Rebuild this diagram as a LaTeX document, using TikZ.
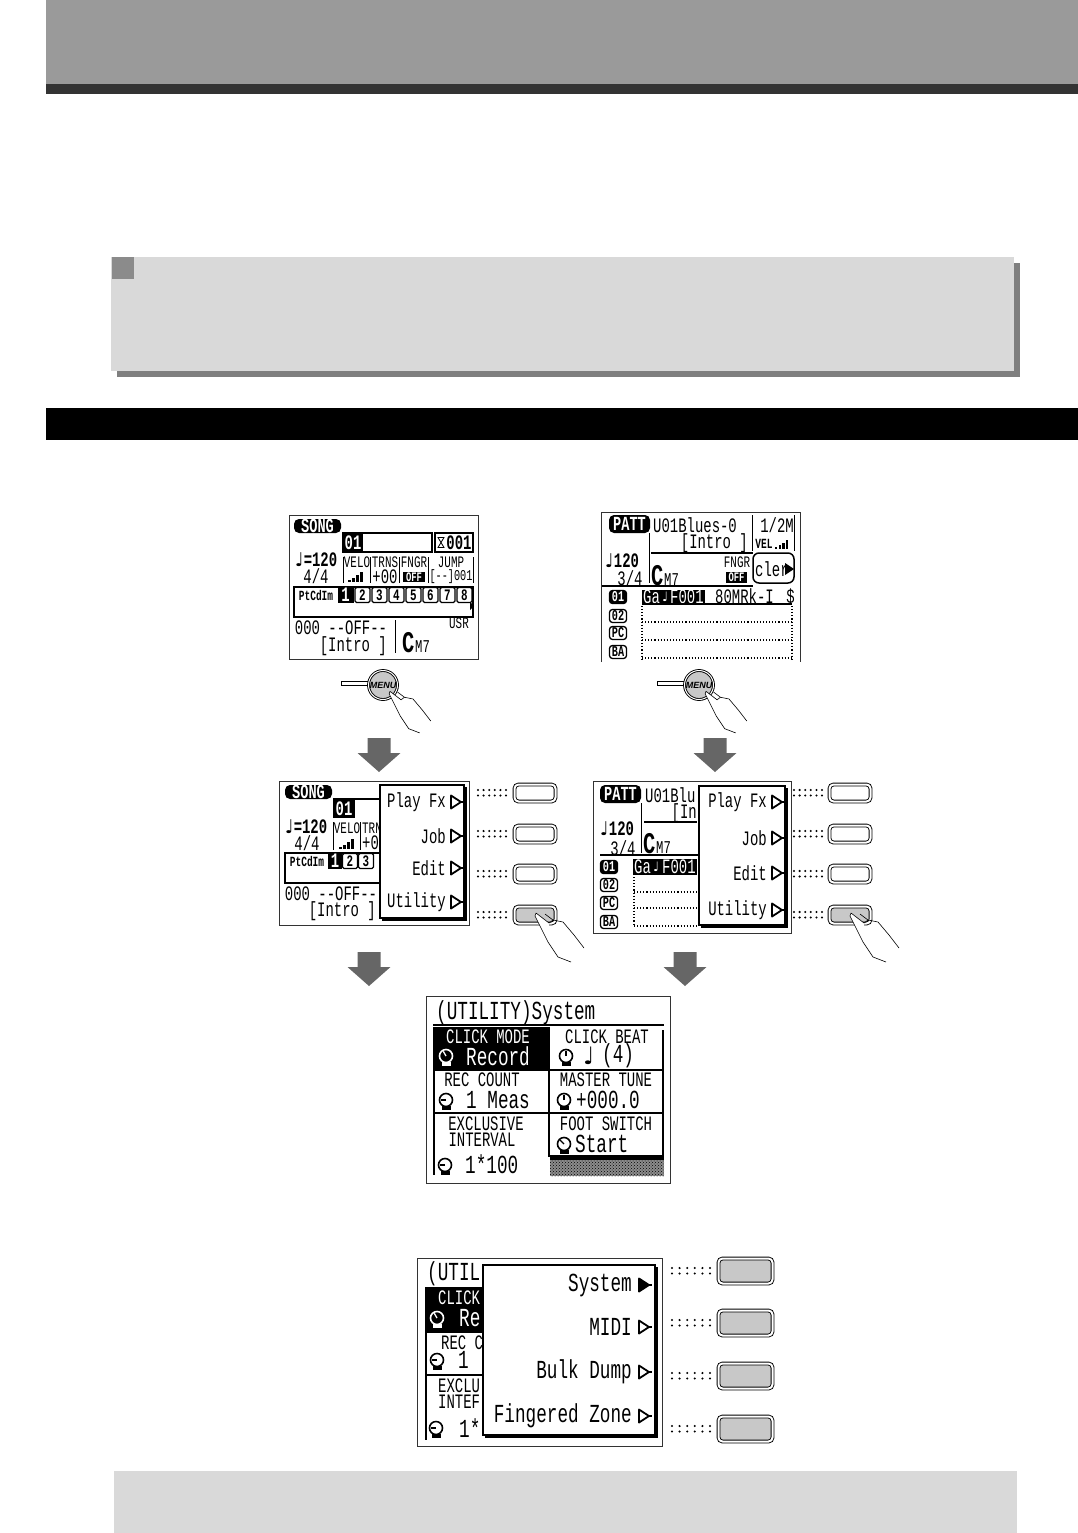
\documentclass[tikz,border=0pt]{standalone}
\usepackage{fontspec}
\usetikzlibrary{patterns}
\newfontfamily\lcdfont[FakeStretch=0.68]{Liberation Mono}
\newfontfamily\symfont{DejaVu Sans}
\newfontfamily\menufont{Liberation Sans}
\definecolor{bandgray}{HTML}{9A9A9A}
\definecolor{banddark}{HTML}{333333}
\definecolor{boxgray}{HTML}{D9D9D9}
\definecolor{shadowgray}{HTML}{7F7F7F}
\definecolor{arrowgray}{HTML}{666666}
\definecolor{keygray}{HTML}{C8C8C8}
\newcommand{\notemark}[1]{{\symfont\bfseries\fontsize{#1}{#1}\selectfont ♩}}

\tikzset{
    lcd/.style={font=\lcdfont\fontsize{20.5}{20.5}\selectfont, inner sep=0pt},
    lcdbold/.style={font=\lcdfont\bfseries\fontsize{20.5}{20.5}\selectfont, inner sep=0pt},
    lcdbig/.style={font=\lcdfont\fontsize{26}{26}\selectfont, inner sep=0pt},
    lcdsm/.style={font=\lcdfont\fontsize{16}{16}\selectfont, inner sep=0pt},
    lcdtiny/.style={font=\lcdfont\bfseries\fontsize{14}{14}\selectfont, inner sep=0pt},
    lcdchord/.style={font=\lcdfont\bfseries\fontsize{30}{30}\selectfont, inner sep=0pt},
    lcdchordb/.style={font=\lcdfont\fontsize{18}{18}\selectfont, inner sep=0pt},
    screen/.style={draw=black!80, line width=.9pt, fill=white},
    popup/.style={draw=black, line width=2pt, fill=white},
    pill/.style={rounded corners=5pt, fill=black, text=white, inner sep=0pt, font=\lcdfont\bfseries\fontsize{20}{20}\selectfont},
    tag/.style={draw=black, line width=1.3pt, rounded corners=3pt, inner sep=0pt, minimum width=17pt, minimum height=13pt, font=\lcdfont\bfseries\fontsize{15}{15}\selectfont},
    cellbox/.style={draw=black, line width=1.2pt, rounded corners=1.5pt, inner sep=0pt, minimum width=15pt, minimum height=15pt, font=\lcdfont\bfseries\fontsize{16}{16}\selectfont},
    softkey/.style={draw=black, fill=#1, double=white, double distance=2pt, line width=.9pt, rounded corners=4pt, inner sep=0pt, minimum width=41pt, minimum height=17pt},
    softkeybig/.style={softkey=#1, minimum width=54pt, minimum height=25pt},
    menutri/.pic={\path[draw=black, line width=1.8pt, line join=round, pic actions] (0,-6.5) -- (10,0) -- (0,6.5) -- cycle; \draw[line width=1.8pt] (10,0) -- (13,0);},
    blockarrow/.pic={\fill[arrowgray] (-11.5,0) -- (11.5,0) -- (11.5,15) -- (21.5,15) -- (0,34) -- (-21.5,15) -- (-11.5,15) -- cycle;},
    keydots/.pic={\foreach \i in {0,...,5} {\fill (\i*#1,0) circle (1.15pt); \fill (\i*#1,5.5) circle (1.15pt);}},
    hand/.pic={\fill[white] (-1,1) -- (0,-2) -- (13,8) -- (12,27) -- cycle; \draw[line width=.6pt] (-1,1) -- (12,27) -- (22,42) -- (35,47) (0,-2) -- (13,8) -- (17,5) -- (27,7) -- (38,20) -- (48,33) (9,-1) -- (17,5) (0,-2) -- (-1,1);},
    knob/.pic={\draw[line width=1.6pt] (0,0) circle (6.5pt); \draw[line width=1.3pt] (0,0) -- (#1:5.5); \fill (-4.5,5.5) rectangle (4.5,10);},
    velobars/.pic={\foreach \i/\h in {0/2,1/4,2/7,3/10} {\fill (\i*4,0) rectangle ++(2.6,-\h);}},
    hourglass/.pic={\draw[line width=.8pt] (-3,-5) -- (3,-5) -- (-3,5) -- (3,5) -- cycle;}
}

\begin{document}
\begin{tikzpicture}[x=1pt, y=-1pt]
\useasboundingbox (0,0) rectangle (1078,1533);

% Page bands and note boxes
\fill[bandgray] (46,0) rectangle (1078,84);
\fill[banddark] (46,84) rectangle (1078,94);
\fill[shadowgray] (117,263) rectangle (1020,377);
\fill[boxgray] (111,257) rectangle (1014,371);
\fill[bandgray!90!black] (112,257) rectangle (134,279);
\fill[black] (46,408) rectangle (1078,440);
\fill[boxgray] (114,1471) rectangle (1017,1533);

% Screen 1: song
\draw[screen] (289,515) rectangle (478,659);
\node[pill, minimum width=47pt, minimum height=14pt] (songa) at (317.5,526) {SONG};
\draw[line width=1.2pt] (343,533) rectangle (432,552);
\node[fill=black, text=white, lcdbold, minimum width=20pt, minimum height=19pt] (nba) at (353,542.5) {01};
\draw[line width=1.5pt] (435,533) rectangle (473,552);
\pic at (441,542.5) {hourglass};
\node[lcdbold] (bara) at (459,542.5) {001};
\node[lcdbold] (tempoa) at (316,560) {\notemark{19}=120};
\node[lcd] (siga) at (316,576) {4/4};
\foreach \x in {343,370,399,428,473} {\draw[line width=.9pt] (\x,557) -- (\x,583);}
\node[lcdsm] (veloa) at (357,562) {VELO};
\node[lcdsm] (trnsa) at (385,562) {TRNS};
\node[lcdsm] (fngra) at (414,562) {FNGR};
\node[lcdsm] (jumpa) at (451,562) {JUMP};
\pic at (348,582) {velobars};
\node[lcd] (plusa) at (385,577) {+00};
\node[fill=black, text=white, font=\lcdfont\bfseries\fontsize{13}{13}\selectfont, inner sep=0pt, minimum width=22pt, minimum height=10pt] (offa) at (414,577) {OFF};
\node[lcd, font=\lcdfont\fontsize{15}{15}\selectfont] (jvala) at (451,577) {[--]001};
\draw[line width=1.8pt] (294,587) rectangle (473,617);
\node[lcdtiny] (ptcda) at (316,595) {PtCdIm};
\node[fill=black, text=white, lcdbold, minimum width=16pt, minimum height=15pt] (cella1) at (345.5,595) {1};
\foreach \n in {2,...,8} {\node[cellbox] (cella\n) at (328.5+\n*17,595) {\n};}
\fill (470,602) -- (474,606) -- (470,610) -- cycle;
\node[lcd] (offlinea) at (341,628) {000 --OFF--};
\node[lcd, anchor=east] (introa) at (387,646) {[Intro ]};
\draw[line width=1pt] (395,620) -- (395,653);
\node[lcdsm] (usra) at (459,623) {USR};
\node[lcdchord, anchor=base west] (chorda) at (402,652) {C};
\node[lcdchordb, anchor=base west] (chordba) at (415,652) {M7};

% Screen 2: pattern
\fill[white] (601,512) rectangle (800,662);
\draw[screen, fill=none] (601,662) -- (601,512) -- (800,512) -- (800,662);
\node[pill, minimum width=41pt, minimum height=18pt] (patta) at (629.5,524) {PATT};
\node[lcd, anchor=west] (namea) at (653,525) {U01Blues-0};
\node[lcd, anchor=east] (introb) at (748,543) {[Intro ]};
\draw[line width=1pt] (649,533) -- (649,583);
\draw[line width=1.6pt] (651,553) -- (753,553);
\draw[line width=1pt] (752,515) -- (752,551);
\draw[line width=1pt] (794,515) -- (794,551);
\node[lcd] (measa) at (777,525) {1/2M};
\node[lcdtiny] (vela) at (764,544) {VEL};
\pic[scale=.9] at (775,549) {velobars};
\node[lcdbold] (tempob) at (622,561) {\notemark{19}120};
\node[lcd] (sigb) at (630,578) {3/4};
\node[lcdchord, anchor=base west] (chordb) at (651,585) {C};
\node[lcdchordb, anchor=base west] (chordbb) at (664,585) {M7};
\node[lcdsm] (fngrb) at (737,562) {FNGR};
\node[fill=black, text=white, font=\lcdfont\bfseries\fontsize{13}{13}\selectfont, inner sep=0pt, minimum width=21pt, minimum height=11pt] (offb) at (736.5,577.5) {OFF};
\node[draw=black, line width=1.5pt, rounded corners=6pt, minimum width=41pt, minimum height=30pt, inner sep=0pt] (clerbox) at (773.5,568) {};
\node[lcd, anchor=west] (clera) at (755,569) {cler};
\fill (785,563) -- (794,569) -- (785,575) -- cycle;
\draw[line width=1.2pt] (602,586) -- (753,586);
\fill (642,590) rectangle (705,603);
\node[lcd, anchor=west, text=white] (ganea) at (643,596.5) {Ga};
\node[lcd, anchor=west, text=white] (notea) at (662,596.5) {\notemark{13}};
\node[lcd, anchor=west, text=white] (gavala) at (670,596.5) {F001};
\node[lcd, anchor=west] (gavalb) at (715,596.5) {80MRk-I};
\node[lcd, anchor=east] (gavalc) at (795,596.5) {\$};
\draw[line width=1.4pt] (642,604) -- (792,604);
\node[tag, fill=black, text=white] (t1b) at (618,597) {01};
\node[tag] (t2b) at (618,616) {02};
\node[tag] (t3b) at (618,633) {PC};
\node[tag] (t4b) at (618,652) {BA};
\foreach \y in {622,640,658} {\draw[line width=1.1pt, dotted] (642,\y) -- (792,\y);}
\draw[line width=1.1pt, dotted] (642,606) -- (642,660);
\draw[line width=1.1pt, dotted] (792,606) -- (792,660);

% Menu buttons
\foreach \x/\nm in {383/a, 699/b} {
    \draw[line width=.8pt, fill=white] (\x-42,681.5) rectangle (\x-15,685);
    \node[circle, draw=black, fill=keygray, double=white, double distance=1pt, line width=.9pt, minimum size=29pt, inner sep=0pt, font=\menufont\bfseries\itshape\fontsize{9}{9}\selectfont] (menu\nm) at (\x,685) {MENU};
    \pic[scale=.85] at (\x+7,693) {hand};
}

% Block arrows
\pic at (379,738) {blockarrow};
\pic at (715,738) {blockarrow};
\pic at (369,952) {blockarrow};
\pic at (685,952) {blockarrow};

% Screen 3: song with menu
\draw[screen] (279,781) rectangle (469,925);
\node[pill, minimum width=47pt, minimum height=14pt] (songb) at (308.5,792) {SONG};
\draw[line width=1.2pt] (333,799) -- (380,799);
\node[fill=black, text=white, lcdbold, minimum width=22pt, minimum height=19pt] (nbb) at (344,808.5) {01};
\node[lcdbold] (tempoc) at (306,827) {\notemark{19}=120};
\node[lcd] (sigc) at (307,843) {4/4};
\foreach \x in {333,360} {\draw[line width=.9pt] (\x,822) -- (\x,850);}
\node[lcdsm] (veloc) at (347,828) {VELO};
\node[lcdsm, anchor=west] (trnsc) at (362,828) {TRN};
\pic at (339,849) {velobars};
\node[lcd, anchor=west] (plusc) at (362,843) {+0};
\draw[line width=1.8pt] (285,853) rectangle (380,883);
\node[lcdtiny] (ptcdc) at (307,861) {PtCdIm};
\node[fill=black, text=white, lcdbold, minimum width=14pt, minimum height=15pt] (cellc1) at (335,861) {1};
\node[cellbox] (cellc2) at (350,861) {2};
\node[cellbox] (cellc3) at (366,861) {3};
\node[lcd] (offlinec) at (331,894) {000 --OFF--};
\node[lcd, anchor=east] (introc) at (376,911) {[Intro ]};
\draw[popup] (380,785) rectangle (464,918);
\draw[line width=3pt] (465,787) -- (465,919.5) -- (382,919.5);
\foreach \y/\t/\nm in {802/Play Fx/a, 836/Job/b, 868/Edit/c, 902/Utility/d} {
    \node[lcd, anchor=east] (menuc\nm) at (446,\y) {\t};
    \pic at (451,\y) {menutri};
}

% Screen 4: pattern with menu
\draw[screen] (593,781) rectangle (791,933);
\node[pill, minimum width=41pt, minimum height=18pt] (pattb) at (620.5,794) {PATT};
\node[lcd, anchor=west] (nameb) at (645,795) {U01Blu};
\node[lcd, anchor=east] (introd) at (697,813) {[In};
\draw[line width=1pt] (641,803) -- (641,853);
\draw[line width=1.6pt] (644,822) -- (697,822);
\node[lcdbold] (tempod) at (617,829) {\notemark{19}120};
\node[lcd] (sigd) at (623,848) {3/4};
\node[lcdchord, anchor=base west] (chordd) at (643,853) {C};
\node[lcdchordb, anchor=base west] (chorddb) at (656,853) {M7};
\draw[line width=1.2pt] (600,855) -- (698,855);
\fill (633,859) rectangle (697,875);
\node[lcd, anchor=west, text=white] (ganed) at (634,867) {Ga};
\node[lcd, anchor=west, text=white] (noted) at (653,867) {\notemark{13}};
\node[lcd, anchor=west, text=white] (gavald) at (662,867) {F001};
\node[tag, fill=black, text=white] (t1d) at (609,867) {01};
\node[tag] (t2d) at (609,885) {02};
\node[tag] (t3d) at (609,903) {PC};
\node[tag] (t4d) at (609,922) {BA};
\foreach \y in {892,908,926} {\draw[line width=1.1pt, dotted] (634,\y) -- (697,\y);}
\draw[line width=1.1pt, dotted] (634,877) -- (634,926);
\draw[popup] (699,786) rectangle (785,925);
\draw[line width=3pt] (786,788) -- (786,926.5) -- (701,926.5);
\foreach \y/\t/\nm in {802/Play Fx/a, 838/Job/b, 873/Edit/c, 910/Utility/d} {
    \node[lcd, anchor=east] (menud\nm) at (767,\y) {\t};
    \pic at (772,\y) {menutri};
}

% Soft keys beside screens 3 and 4
\foreach \y/\k/\c in {793/a/white, 834/b/white, 874/c/white, 915/d/keygray} {
    \pic at (478,\y-3) {keydots=5.6};
    \node[softkey=\c] (keyc\k) at (535,\y) {};
    \pic at (794,\y-3) {keydots=5.6};
    \node[softkey=\c] (keyd\k) at (850,\y) {};
}
\pic at (536,915) {hand};
\pic at (851,915) {hand};

% Screen 5: utility system
\draw[screen] (426,996) rectangle (670,1183);
\node[lcdbig, anchor=west] (titlee) at (436,1013) {(UTILITY)System};
\draw[line width=2pt] (433,1025) -- (664,1025);
\fill (434,1027) rectangle (548,1069);
\node[lcd, text=white] (clicke) at (488,1037) {CLICK MODE};
\pic[color=white] at (446,1056) {knob=-120};
\node[lcdbig, text=white, anchor=west] (recorde) at (466,1056) {Record};
\node[lcd] (beate) at (607,1037) {CLICK BEAT};
\pic at (566,1056) {knob=-90};
\node[lcdbig, anchor=west] (notee) at (583,1056) {\notemark{24}};
\node[lcdbig, anchor=west] (beatvale) at (602,1056) {(4)};
\draw[line width=1.2pt] (434,1070) -- (548,1070) (550,1070) -- (663,1070);
\node[lcd] (rece) at (482,1080) {REC COUNT};
\pic at (446,1100) {knob=180};
\node[lcdbig, anchor=west] (recvale) at (466,1100) {1 Meas};
\node[lcd] (tunee) at (606,1080) {MASTER TUNE};
\pic at (564,1100) {knob=-90};
\node[lcdbig, anchor=west] (tunevale) at (576,1100) {+000.0};
\draw[line width=1.2pt] (434,1113) -- (663,1113);
\node[lcd] (exele) at (486,1124) {EXCLUSIVE};
\node[lcd] (intve) at (482,1140) {INTERVAL};
\pic at (445,1165) {knob=180};
\node[lcdbig, anchor=west] (intvale) at (465,1164) {1*100};
\node[lcd] (foote) at (606,1124) {FOOT SWITCH};
\pic at (564,1144) {knob=-135};
\node[lcdbig, anchor=west] (footvale) at (575,1144) {Start};
\draw[line width=1.2pt] (434,1027) -- (434,1175);
\draw[line width=1.5pt] (549,1027) -- (549,1157);
\draw[line width=2pt] (663,1030) -- (663,1157);
\fill (550,1155) rectangle (664,1160);
\fill[black!45] (550,1160) rectangle (664,1176);
\fill[pattern=crosshatch dots] (550,1160) rectangle (664,1176);

% Screen 6: utility menu
\draw[screen] (417,1258) rectangle (662,1446);
\node[lcdbig, anchor=west] (titlef) at (427,1274) {(UTIL};
\fill (426,1287) rectangle (482,1333);
\node[lcd, text=white, anchor=west] (clickf) at (438,1298) {CLICK};
\pic[color=white] at (437,1318) {knob=-120};
\node[lcdbig, text=white, anchor=west] (recordf) at (459,1318) {Re};
\node[lcd, anchor=west] (recf) at (441,1343) {REC C};
\pic at (437,1360) {knob=180};
\node[lcdbig, anchor=west] (recvalf) at (458,1360) {1};
\draw[line width=1.2pt] (426,1375) -- (482,1375);
\node[lcd, anchor=west] (exelf) at (438,1386) {EXCLU};
\node[lcd, anchor=west] (intvf) at (438,1402) {INTEF};
\pic at (436,1428) {knob=180};
\node[lcdbig, anchor=west] (intvalf) at (459,1428) {1*};
\draw[line width=1.2pt] (426,1287) -- (426,1440);
\draw[popup] (483,1265) rectangle (655,1435);
\draw[line width=3pt] (656,1267) -- (656,1436.5) -- (485,1436.5);
\foreach \y/\t/\nm in {1285/System/a, 1327/MIDI/b, 1372/Bulk Dump/c, 1416/Fingered Zone/d} {
    \node[lcdbig, anchor=east] (menuf\nm) at (632,\y) {\t};
}
\pic[fill=black] at (639,1285) {menutri};
\pic at (639,1327) {menutri};
\pic at (639,1372) {menutri};
\pic at (639,1416) {menutri};

% Soft keys beside screen 6
\foreach \y/\k in {1271/a, 1323/b, 1376/c, 1429/d} {
    \pic at (672,\y-3) {keydots=7.6};
    \node[softkeybig=keygray] (keyf\k) at (745.5,\y) {};
}

\end{tikzpicture}
\end{document}
